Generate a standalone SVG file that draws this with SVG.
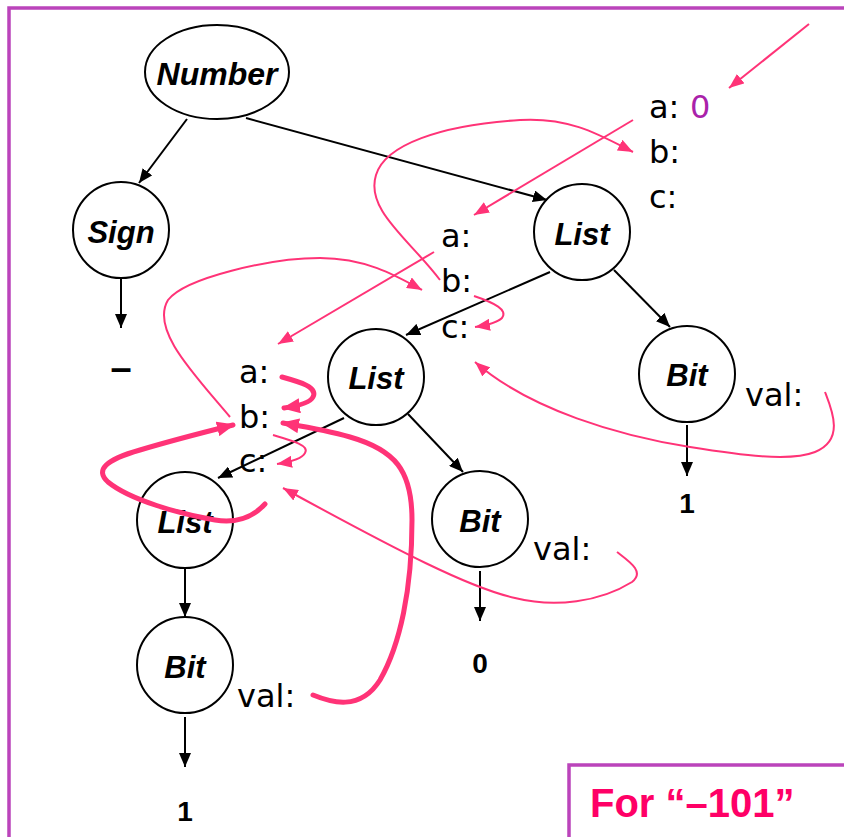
<svg xmlns="http://www.w3.org/2000/svg" width="844" height="837" viewBox="0 0 844 837">
<style>
.node{fill:#fff;stroke:#000;stroke-width:2}
.nl{font-family:"Liberation Sans",Arial,sans-serif;font-weight:bold;font-style:italic;font-size:31px;text-anchor:middle;fill:#000}
.at{font-family:"DejaVu Sans",Verdana,sans-serif;font-size:32px;fill:#000}
.lf{font-family:"Liberation Sans",Arial,sans-serif;font-weight:bold;font-size:28px;text-anchor:middle;fill:#000}
.blk{stroke:#000;stroke-width:2;fill:none;marker-end:url(#ab)}
.pt{stroke:#FF3377;stroke-width:2;fill:none;marker-end:url(#ap)}
.pk{stroke:#FF3377;stroke-width:5;fill:none;stroke-linecap:round;marker-end:url(#apk)}
.frame{fill:none;stroke:#BB44BB;stroke-width:3.5}
</style>
<defs>
<marker id="ab" viewBox="0 0 14 12" refX="14" refY="6" markerWidth="14" markerHeight="12" markerUnits="userSpaceOnUse" orient="auto"><path d="M0,0 L14,6 L0,12 z" fill="#000"/></marker>
<marker id="ap" viewBox="0 0 15 12" refX="15" refY="6" markerWidth="15" markerHeight="12" markerUnits="userSpaceOnUse" orient="auto"><path d="M0,0 L15,6 L0,12 z" fill="#FF3377"/></marker>
<marker id="apk" viewBox="0 0 18 15" refX="16" refY="7.5" markerWidth="18" markerHeight="15" markerUnits="userSpaceOnUse" orient="auto"><path d="M0,0 L18,7.5 L0,15 z" fill="#FF3377"/></marker>
</defs>
<rect width="844" height="837" fill="#fff"/>
<rect class="frame" x="9" y="8" width="850" height="850"/>

<g id="number"><ellipse class="node" cx="217" cy="72" rx="72" ry="47"/><text class="nl" x="217" y="85" style="font-size:32px">Number</text></g>
<g id="sign"><circle class="node" cx="121" cy="230" r="48"/><text class="nl" x="121" y="243">Sign</text></g>
<g id="sign-val"><text x="121" y="381" style="font-family:'Liberation Sans',Arial,sans-serif;font-weight:bold;font-size:38px;text-anchor:middle">–</text></g>
<g id="list1"><circle class="node" cx="582" cy="232" r="48"/><text class="nl" x="582" y="245">List</text></g>
<g id="list2"><circle class="node" cx="376" cy="377" r="48"/><text class="nl" x="376" y="389">List</text></g>
<g id="list3"><circle class="node" cx="185" cy="520" r="48"/><text class="nl" x="185" y="533">List</text></g>
<g id="bit1"><circle class="node" cx="687" cy="374" r="48"/><text class="nl" x="687" y="386">Bit</text></g>
<g id="bit2"><circle class="node" cx="480" cy="519" r="48"/><text class="nl" x="480" y="532">Bit</text></g>
<g id="bit3"><circle class="node" cx="185" cy="665" r="48"/><text class="nl" x="185" y="678">Bit</text></g>
<g id="leaf1"><text class="lf" x="687" y="513">1</text></g>
<g id="leaf0"><text class="lf" x="480" y="673">0</text></g>
<g id="leaf1b"><text class="lf" x="185" y="821">1</text></g>

<g id="attrs-top">
<text class="at" x="649" y="118">a:</text><text class="at" x="690" y="118" style="fill:#AA22AA">0</text>
<text class="at" x="649" y="163">b:</text>
<text class="at" x="649" y="208">c:</text>
</g>
<g id="attrs-list1">
<text class="at" x="441" y="247">a:</text>
<text class="at" x="441" y="292">b:</text>
<text class="at" x="441" y="338">c:</text>
</g>
<g id="attrs-list2">
<text class="at" x="239" y="383">a:</text>
<text class="at" x="239" y="428">b:</text>
<text class="at" x="239" y="472">c:</text>
</g>
<g id="vals">
<text class="at" x="745" y="406">val:</text>
<text class="at" x="533" y="560">val:</text>
<text class="at" x="237" y="707">val:</text>
</g>

<g id="connectors">
<path class="blk" d="M187,119 L139,183"/>
<path class="blk" d="M246,118 L547,200"/>
<path class="blk" d="M121,278 L121,328"/>
<path class="blk" d="M550,272 L406,335"/>
<path class="blk" d="M614,270 L670,327"/>
<path class="blk" d="M408,414 L463,472"/>
<path class="blk" d="M344,418 L218,478"/>
<path class="blk" d="M185,568 L185,617"/>
<path class="blk" d="M687,425 L687,476"/>
<path class="blk" d="M480,571 L480,621"/>
<path class="blk" d="M185,717 L185,767"/>

<path class="pt" d="M809,24 L729,88"/>
<path class="pt" d="M633,120 L474,215"/>
<path class="pt" d="M440,280 C410,240 365,210 376,175 C385,145 440,125 520,120 C570,117 600,135 633,152"/>
<path class="pt" d="M474,296 C495,303 508,310 502,318 C497,323 488,325 475,327"/>
<path class="pt" d="M825,392 C832,410 845,440 815,452 C790,462 740,455 690,447 C620,436 530,410 475,362"/>
<path class="pt" d="M434,252 L278,344"/>
<path class="pt" d="M230,417 C195,375 150,330 168,300 C185,278 270,258 320,258 C365,258 395,275 422,290"/>
<path class="pk" d="M282,377 C300,382 318,387 313,397 C310,403 298,406 284,408"/>
<path class="pt" d="M273,435 C290,440 310,445 305,453 C302,459 290,462 277,464"/>
<path class="pk" d="M313,695 C330,702 360,712 380,680 C400,645 412,590 412,520 C412,470 395,450 350,437 C325,430 300,426 283,423"/>
<path class="pk" d="M265,504 C255,515 240,524 215,520 C180,514 130,500 108,482 C95,470 105,460 140,450 C170,441 205,432 233,425"/>
<path class="pt" d="M617,552 C630,562 645,572 632,582 C600,602 555,608 515,598 C470,588 400,552 283,488"/>
</g>

<g id="caption">
<rect class="frame" x="569" y="765" width="300" height="100"/>
<text x="590" y="817" style="font-family:'Liberation Sans',Arial,sans-serif;font-weight:bold;font-size:40px;fill:#FF0066">For “–101”</text>
</g>
</svg>
